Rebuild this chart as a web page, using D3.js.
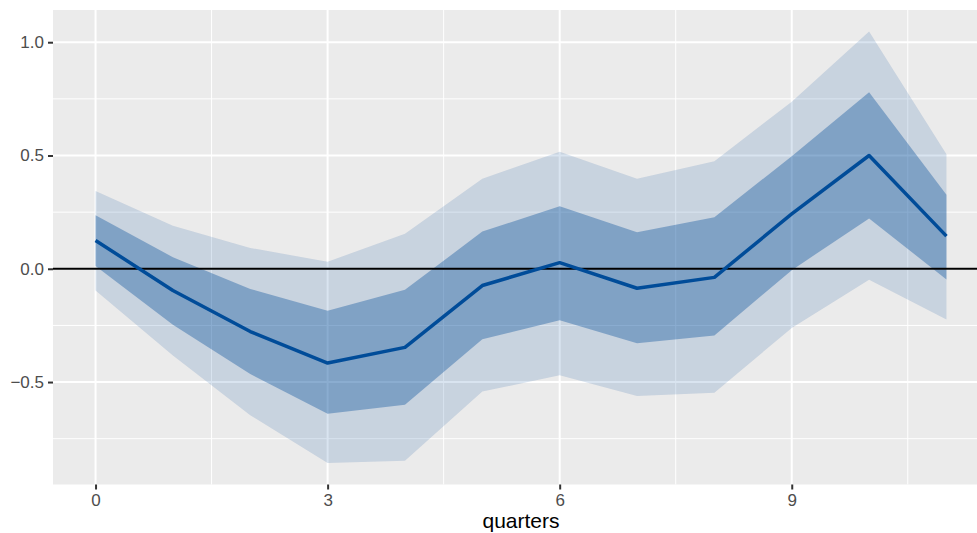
<!DOCTYPE html>
<html>
<head>
<meta charset="utf-8">
<script src="https://cdn.jsdelivr.net/npm/d3@7"></script>
<style>
  html, body { margin: 0; padding: 0; background: #fff; }
  svg { display: block; }
</style>
</head>
<body>
<svg id="chart" width="977" height="533"></svg>
<script>
const quarters   = [0, 1, 2, 3, 4, 5, 6, 7, 8, 9, 10, 11];
const meanIRF    = [0.125, -0.096, -0.277, -0.416, -0.347, -0.074, 0.027, -0.086, -0.038, 0.242, 0.500, 0.144];
const inner_hi   = [0.236, 0.051, -0.089, -0.185, -0.093, 0.164, 0.276, 0.161, 0.227, 0.497, 0.779, 0.327];
const inner_lo   = [0.012, -0.247, -0.465, -0.640, -0.600, -0.311, -0.227, -0.329, -0.294, -0.006, 0.222, -0.047];
const outer_hi   = [0.343, 0.190, 0.092, 0.031, 0.155, 0.397, 0.517, 0.397, 0.475, 0.737, 1.047, 0.506];
const outer_lo   = [-0.096, -0.383, -0.646, -0.857, -0.847, -0.542, -0.470, -0.562, -0.547, -0.261, -0.048, -0.224];
const xTicks     = [0, 3, 6, 9];
const xMinor     = [1.5, 4.5, 7.5, 10.5];
const yTicks     = [-0.5, 0, 0.5, 1.0];
const yMinor     = [-0.75, -0.25, 0.25, 0.75];
const xTitle     = "quarters";

const rows = quarters.map((q, i) => ({
  q, m: meanIRF[i], ih: inner_hi[i], il: inner_lo[i], oh: outer_hi[i], ol: outer_lo[i]
}));

const svg = d3.select("#chart");
const panel = { left: 53, top: 10, right: 989, bottom: 484.5 };

// ggplot-style 5% expansion
const xmin = d3.min(quarters), xmax = d3.max(quarters);
const xpad = (xmax - xmin) * 0.05;
const x = d3.scaleLinear().domain([xmin - xpad, xmax + xpad]).range([panel.left, panel.right]);

const ymin = d3.min(outer_lo), ymax = d3.max(outer_hi);
const ypad = (ymax - ymin) * 0.05;
const y = d3.scaleLinear().domain([ymin - ypad, ymax + ypad]).range([panel.bottom, panel.top]);

const g = svg.append("g");

g.append("rect")
  .attr("x", panel.left).attr("y", panel.top)
  .attr("width", panel.right - panel.left).attr("height", panel.bottom - panel.top)
  .attr("fill", "#EBEBEB");

// minor grid
g.selectAll(".ymin").data(yMinor).join("line")
  .attr("x1", panel.left).attr("x2", panel.right)
  .attr("y1", d => y(d)).attr("y2", d => y(d))
  .attr("stroke", "#fff").attr("stroke-width", 1);
g.selectAll(".xmin").data(xMinor).join("line")
  .attr("y1", panel.top).attr("y2", panel.bottom)
  .attr("x1", d => x(d)).attr("x2", d => x(d))
  .attr("stroke", "#fff").attr("stroke-width", 1);
// major grid
g.selectAll(".ymaj").data(yTicks).join("line")
  .attr("x1", panel.left).attr("x2", panel.right)
  .attr("y1", d => y(d)).attr("y2", d => y(d))
  .attr("stroke", "#fff").attr("stroke-width", 2);
g.selectAll(".xmaj").data(xTicks).join("line")
  .attr("y1", panel.top).attr("y2", panel.bottom)
  .attr("x1", d => x(d)).attr("x2", d => x(d))
  .attr("stroke", "#fff").attr("stroke-width", 2);

const blue = "#004C99";

const areaOuter = d3.area().x(d => x(d.q)).y0(d => y(d.ol)).y1(d => y(d.oh));
const areaInner = d3.area().x(d => x(d.q)).y0(d => y(d.il)).y1(d => y(d.ih));

g.append("path").datum(rows).attr("d", areaOuter)
  .attr("fill", blue).attr("fill-opacity", 0.15);
g.append("path").datum(rows).attr("d", areaInner)
  .attr("fill", blue).attr("fill-opacity", 0.36);

// zero line
g.append("line")
  .attr("x1", panel.left).attr("x2", panel.right)
  .attr("y1", y(0)).attr("y2", y(0))
  .attr("stroke", "#000").attr("stroke-width", 2);

const line = d3.line().x(d => x(d.q)).y(d => y(d.m));
g.append("path").datum(rows).attr("d", line)
  .attr("fill", "none").attr("stroke", blue).attr("stroke-width", 3.5)
  .attr("stroke-linejoin", "round");

// axes
const fontFam = "'Liberation Sans', Arial, Helvetica, sans-serif";
const xAxis = d3.axisBottom(x).tickValues(xTicks).tickFormat(d3.format("d"))
  .tickSize(5).tickPadding(4);
const xa = svg.append("g").attr("transform", `translate(0,${panel.bottom})`).call(xAxis);
xa.select(".domain").remove();
xa.selectAll(".tick line").attr("stroke", "#333").attr("stroke-width", 2);
xa.selectAll(".tick text").attr("fill", "#4D4D4D").attr("font-size", 17)
  .attr("font-family", fontFam).attr("dy", "0.71em");

const yAxis = d3.axisLeft(y).tickValues(yTicks)
  .tickFormat(d => d < 0 ? "\u2212" + d3.format(".1f")(-d) : d3.format(".1f")(d))
  .tickSize(5).tickPadding(4);
const ya = svg.append("g").attr("transform", `translate(${panel.left},0)`).call(yAxis);
ya.select(".domain").remove();
ya.selectAll(".tick line").attr("stroke", "#333").attr("stroke-width", 2);
ya.selectAll(".tick text").attr("fill", "#4D4D4D").attr("font-size", 17)
  .attr("font-family", fontFam);

svg.append("text")
  .attr("x", (panel.left + panel.right) / 2 - 0)
  .attr("y", 528)
  .attr("text-anchor", "middle")
  .attr("font-family", fontFam)
  .attr("font-size", 21)
  .attr("fill", "#000")
  .text(xTitle);
</script>
</body>
</html>
